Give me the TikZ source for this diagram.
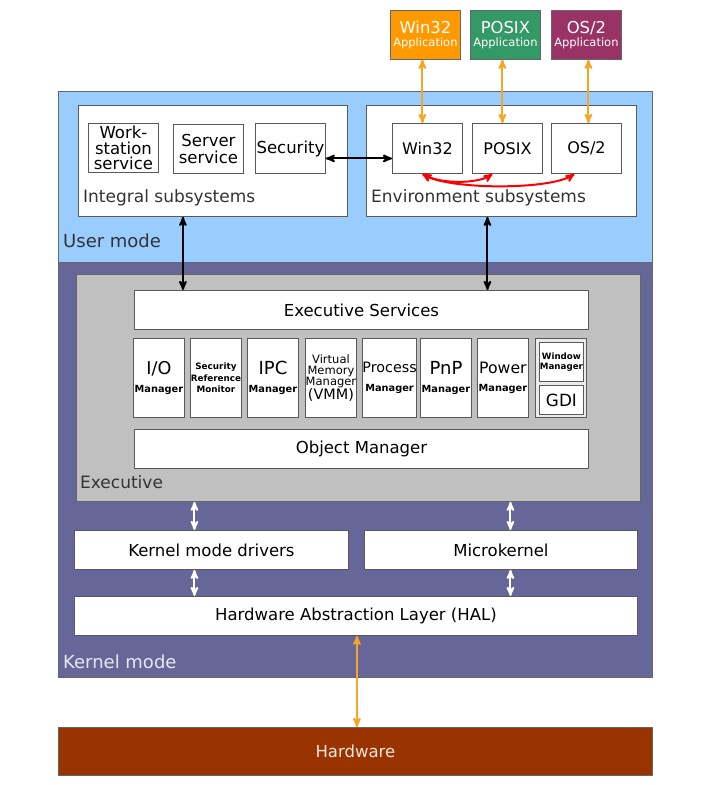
\documentclass[tikz,border=0pt]{standalone}
\usepackage{fontspec}
\setmainfont{DejaVu Sans}
\usetikzlibrary{arrows,positioning}

\definecolor{usercol}{HTML}{99CCFF}
\definecolor{kernelcol}{HTML}{666699}
\definecolor{execcol}{HTML}{C0C0C0}
\definecolor{hwcol}{HTML}{993300}
\definecolor{wincol}{HTML}{FF9900}
\definecolor{posixcol}{HTML}{339966}
\definecolor{oscol}{HTML}{993366}
\definecolor{linkcol}{HTML}{F5A623}

\newcommand{\boxtxt}{\fontsize{16.5}{16.5}\selectfont}
\newcommand{\smtxt}{\fontsize{9.8}{10}\selectfont\bfseries}
\newcommand{\fs}[1]{\fontsize{#1}{#1}\selectfont}

\begin{document}
\begin{tikzpicture}[x=1pt,y=-1pt,>=stealth',align=center,
		blk/.style={draw=black!65,fill=white,line width=0.9pt,inner sep=0pt,anchor=north west,font=\boxtxt},
		area/.style={draw=black!60,line width=0.8pt,inner sep=0pt,anchor=north west},
		app/.style={draw=black!60,line width=0.8pt,inner sep=0pt,anchor=north west,text=white,minimum width=70pt,minimum height=49pt},
		mgr/.style={blk,minimum width=51pt,minimum height=79pt},
		lbl/.style={anchor=west,inner sep=0pt,font=\fs{17},text=black!80},
		link/.style={<->,line width=2pt},
		orlink/.style={<->,line width=2pt,draw=linkcol},
		wlink/.style={<->,line width=2pt,draw=white}]
	\useasboundingbox (0,0) rectangle (713,785);

	% modes
	\node[area,fill=usercol,minimum width=594pt,minimum height=171pt] (user) at (58,91) {};
	\node[area,fill=kernelcol,minimum width=594pt,minimum height=415pt] (kernel) at (58,262) {};
	\node[lbl,font=\fs{18}] (userlbl) at (63,241) {User mode};
	\node[lbl,font=\fs{18},text=white!85!kernelcol] (kernellbl) at (63,662) {Kernel mode};

	% applications
	\node[app,fill=wincol] (win_app) at (390,10) {{\fs{16.4}Win32}\\[1pt]{\fs{11.5}Application}};
	\node[app,fill=posixcol] (posix_app) at (470,10) {{\fs{16.4}POSIX}\\[1pt]{\fs{11.5}Application}};
	\node[app,fill=oscol] (os_app) at (551,10) {{\fs{16.4}OS/2}\\[1pt]{\fs{11.5}Application}};

	% user mode subsystems
	\node[blk,minimum width=269pt,minimum height=111pt] (integral) at (78,105) {};
	\node[lbl] (intlbl) at (83,198) {Integral subsystems};
	\node[blk,minimum width=70pt,minimum height=49pt] (ws) at (88,123) {Work-\\[-1pt]station\\[-1pt]service};
	\node[blk,minimum width=70pt,minimum height=49pt] (server) at (173,124) {Server\\service};
	\node[blk,minimum width=70pt,minimum height=50pt] (security) at (255,123) {Security};

	\node[blk,minimum width=270pt,minimum height=111pt] (environ) at (366,105) {};
	\node[lbl] (envlbl) at (371,198) {Environment subsystems};
	\node[blk,minimum width=70pt,minimum height=50pt,font=\fs{16}] (win32) at (392,123) {Win32};
	\node[blk,minimum width=70pt,minimum height=50pt,font=\fs{16}] (posix) at (472,123) {POSIX};
	\node[blk,minimum width=70pt,minimum height=50pt,font=\fs{16}] (os2) at (551,123) {OS/2};

	% executive
	\node[area,fill=execcol,minimum width=564pt,minimum height=227pt] (exec) at (76,274) {};
	\node[lbl] (execlbl) at (80,482) {Executive};
	\node[blk,minimum width=454pt,minimum height=39pt] (services) at (134,290) {Executive Services};
	\node[mgr] (io) at (133,338) {{\fs{17.6}I/O}\\[1pt]{\smtxt Manager}};
	\node[mgr,font=\fontsize{8.8}{11.5}\selectfont\bfseries] (srm) at (190,338) {Security\\Reference\\Monitor};
	\node[mgr] (ipc) at (247,338) {{\fs{18}IPC}\\[1pt]{\smtxt Manager}};
	\node[mgr,font=\fontsize{11.5}{11}\selectfont] (vmm) at (305,338) {Virtual\\Memory\\Manager\\[-1pt]{\fs{14.4}(VMM)}};
	\node[mgr] (process) at (362,338) {{\fs{14.3}Process}\\[2pt]{\smtxt Manager}};
	\node[mgr] (pnp) at (420,338) {{\fs{18}PnP}\\[1pt]{\smtxt Manager}};
	\node[mgr] (power) at (477,338) {{\fs{15.7}Power}\\[2pt]{\smtxt Manager}};
	\node[mgr,fill=black!8] (gui) at (535,338) {};
	\node[blk,minimum width=44pt,minimum height=39pt,font=\fontsize{8.7}{10}\selectfont\bfseries] (winmgr) at (539,342) {Window\\Manager};
	\node[blk,minimum width=44pt,minimum height=29pt,font=\fs{16.8}] (gdi) at (539,385) {GDI};
	\node[blk,minimum width=454pt,minimum height=39pt] (objmgr) at (134,429) {Object Manager};

	% kernel
	\node[blk,minimum width=274pt,minimum height=39pt] (drivers) at (74,530) {Kernel mode drivers};
	\node[blk,minimum width=273pt,minimum height=39pt] (micro) at (364,530) {Microkernel};
	\node[blk,minimum width=563pt,minimum height=39pt] (hal) at (74,596) {Hardware Abstraction Layer (HAL)};
	\node[area,fill=hwcol,text=white!88!hwcol,minimum width=594pt,minimum height=48pt,font=\boxtxt] (hw) at (58,727) {Hardware};

	% connections
	\draw[orlink] ([xshift=-3pt]win_app.south) -- ([xshift=-3pt]win_app.south |- win32.north);
	\draw[orlink] ([xshift=-3pt]posix_app.south) -- ([xshift=-3pt]posix_app.south |- posix.north);
	\draw[orlink] ([xshift=2pt]os_app.south) -- ([xshift=2pt]os_app.south |- os2.north);
	\draw[link] ([yshift=-10pt]security.east) -- ([yshift=-10pt]security.east -| win32.west);
	\draw[link] ([xshift=-30pt]integral.south) -- ([xshift=-30pt]integral.south |- services.north);
	\draw[link] ([xshift=-14pt]environ.south) -- ([xshift=-14pt]environ.south |- services.north);
	\draw[<->,red,line width=2pt] ([xshift=-5pt]win32.south) .. controls (440,184) and (478,184) .. ([xshift=-15pt]posix.south);
	\draw[<->,red,line width=2pt] ([xshift=-5pt]win32.south) .. controls (450,190) and (550,190) .. ([xshift=-12pt]os2.south);
	\draw[wlink] ([xshift=-17pt]drivers.north) -- ([xshift=-17pt]drivers.north |- exec.south);
	\draw[wlink] ([xshift=-17pt]drivers.south) -- ([xshift=-17pt]drivers.south |- hal.north);
	\draw[wlink] ([xshift=9.5pt]micro.north) -- ([xshift=9.5pt]micro.north |- exec.south);
	\draw[wlink] ([xshift=9.5pt]micro.south) -- ([xshift=9.5pt]micro.south |- hal.north);
	\draw[orlink] ([xshift=1pt]hal.south) -- ([xshift=1pt]hal.south |- hw.north);
\end{tikzpicture}
\end{document}
